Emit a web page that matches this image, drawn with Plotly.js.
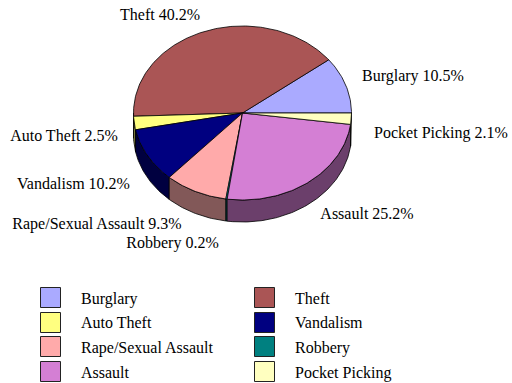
<!DOCTYPE html>
<html>
<head>
<meta charset="utf-8">
<script src="https://cdn.plot.ly/plotly-3.0.1.min.js"></script>
<style>
html,body{margin:0;padding:0;background:#fff}
#chart{width:512px;height:383px}
#chart .point{stroke-linejoin:miter !important}
</style>
</head>
<body>
<div id="chart"></div>
<script>
// Share of offences by category, percent, running counter-clockwise from due east
const categories = ["Burglary", "Theft", "Auto Theft", "Vandalism", "Rape/Sexual Assault", "Robbery", "Assault", "Pocket Picking"];
const shares = [10.5, 40.2, 2.5, 10.2, 9.3, 0.2, 25.2, 2.1];
const colors = ["#AAAAFF", "#AA5555", "#FFFF80", "#000080", "#FFAAAA", "#008080", "#D47FD4", "#FFFFC0"];
const sideColors = ["#555580", "#552A2A", "#808040", "#000040", "#825858", "#004040", "#6B3F6B", "#808060"];

// Where each slice label sits, same order as the categories
const labelX = [413, 160, 64, 73.5, 97, 172.5, 367, 441];
const labelY = [77, 16, 137, 185, 225, 244, 215, 134];

// Legend reading order: two columns, four rows
const legendOrder = ["Burglary", "Auto Theft", "Rape/Sexual Assault", "Assault", "Theft", "Vandalism", "Robbery", "Pocket Picking"];
const legendSwatchX = [50.5, 50.5, 50.5, 50.5, 264.5, 264.5, 264.5, 264.5];
const legendSwatchY = [297.5, 322.5, 346.5, 371.5, 297.5, 322.5, 346.5, 371.5];
const legendTextX = [81, 81, 81, 81, 295, 295, 295, 295];
const legendTextY = [299.5, 324, 348.5, 373.5, 299.5, 324, 348.5, 373.5];

// Pie geometry in axis units
const cx = 242.5, cy = 113, rx = 109, ry = 87, depth = 22;
const FONT = "'Liberation Serif', 'Times New Roman', serif";
const FONT_SIZE = 16;
const OUTLINE = 0.8;
const SLIVER_OUTLINE = 0.6;

function rimPoint(deg, drop) {
  const r = deg * Math.PI / 180;
  return [cx + rx * Math.cos(r), cy - ry * Math.sin(r) + drop];
}

function arc(from, to, drop) {
  const pts = [];
  const n = Math.max(2, Math.ceil(Math.abs(to - from)));
  for (let i = 0; i <= n; i++) pts.push(rimPoint(from + (to - from) * i / n, drop));
  return pts;
}

function polygon(pts, fill, width) {
  return {
    type: "scatter", mode: "lines", x: pts.map(p => p[0]), y: pts.map(p => p[1]),
    fill: "toself", fillcolor: fill, line: {color: "#000", width},
    hoverinfo: "skip", showlegend: false
  };
}

const total = shares.reduce((a, b) => a + b, 0);
const walls = [], tops = [];
let angle = 0;
shares.forEach((share, i) => {
  const start = angle, end = angle + share / total * 360;
  angle = end;

  // A sliver under one degree gets a finer outline so it stays a single dark edge
  const width = end - start < 1 ? SLIVER_OUTLINE : OUTLINE;

  // Only the front half of the rim shows a side wall
  const a0 = Math.max(start, 180), a1 = Math.min(end, 360);
  if (a1 > a0) {
    const ring = arc(a0, a1, 0).concat(arc(a1, a0, depth));
    ring.push(ring[0]);
    walls.push(polygon(ring, sideColors[i], width));
  }

  const wedge = [[cx, cy]].concat(arc(start, end, 0));
  wedge.push([cx, cy]);
  tops.push(polygon(wedge, colors[i], width));
});

const sliceLabels = {
  type: "scatter", mode: "text", x: labelX, y: labelY,
  text: categories.map((c, i) => c + " " + shares[i].toFixed(1) + "%"),
  textposition: "middle center",
  textfont: {family: FONT, size: FONT_SIZE, color: "#000"},
  hoverinfo: "skip", showlegend: false, cliponaxis: false
};

const swatches = {
  type: "scatter", mode: "markers", x: legendSwatchX, y: legendSwatchY,
  marker: {
    symbol: "square", size: 20,
    color: legendOrder.map(n => colors[categories.indexOf(n)]),
    line: {color: "#222", width: 1}
  },
  hoverinfo: "skip", showlegend: false, cliponaxis: false
};

const legendLabels = {
  type: "scatter", mode: "text", x: legendTextX, y: legendTextY, text: legendOrder,
  textposition: "middle right",
  textfont: {family: FONT, size: FONT_SIZE, color: "#000"},
  hoverinfo: "skip", showlegend: false, cliponaxis: false
};

const hiddenAxis = range => ({
  range, visible: false, showgrid: false, zeroline: false, fixedrange: true
});

Plotly.newPlot("chart", walls.concat(tops, [sliceLabels, swatches, legendLabels]), {
  width: 512, height: 383,
  margin: {l: 0, r: 0, t: 0, b: 0},
  paper_bgcolor: "#fff", plot_bgcolor: "#fff",
  xaxis: hiddenAxis([0, 512]),
  yaxis: hiddenAxis([383, 0]),
  showlegend: false
}, {displayModeBar: false, staticPlot: true});
</script>
</body>
</html>
